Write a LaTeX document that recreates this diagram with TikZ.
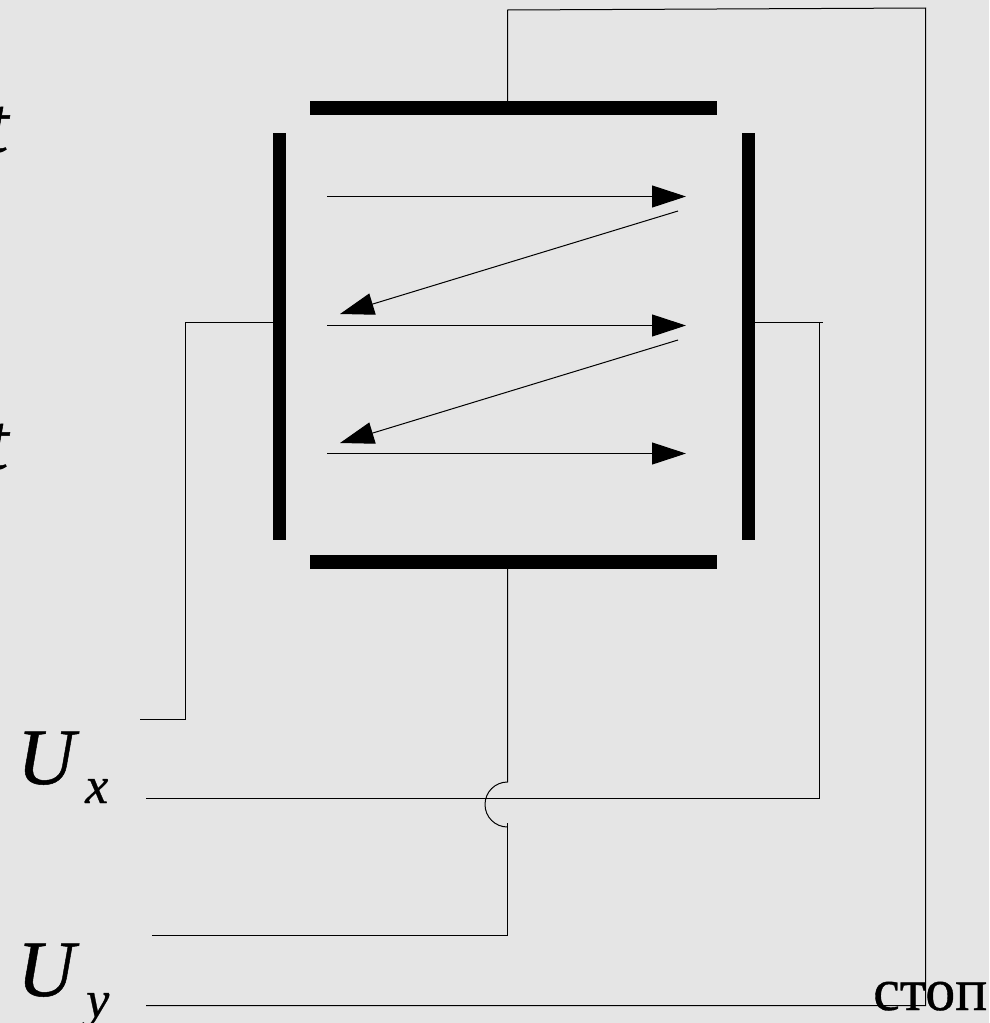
\documentclass[tikz,border=0pt]{standalone}
\usepackage{fontspec}
\usepackage{tikz}
\usetikzlibrary{arrows.meta}
\setmainfont{Liberation Serif}
\newfontfamily\heavyserif[FakeBold=0.6]{Liberation Serif}

\begin{document}
\begin{tikzpicture}
		[x=1pt,y=-1pt,%%%%%%%%%%%%%%%%%%%%%%%%%%%%%%
		plate/.style={rectangle,fill=black,inner sep=0pt},
		wire/.style={draw=black,line width=1pt},
		ray/.style={draw=black,line width=1pt,-{Triangle[length=34pt,width=22pt]}},
		bigsym/.style={anchor=base west,inner sep=0pt,font=\fontsize{80}{80}\selectfont\heavyserif\itshape},
		subsym/.style={anchor=base west,inner sep=0pt,font=\fontsize{52}{52}\selectfont\heavyserif\itshape},
		]%%%%%%%%%%%%%%%%%%%%%%%%%%%%%%
		
		\path[use as bounding box,fill=black!10] (0,0) rectangle (989,1023);
		\clip (0,0) rectangle (989,1023);
		
		\node[plate,minimum width=407pt,minimum height=14pt] (plateTop) at (513.5,108){};
		\node[plate,minimum width=407pt,minimum height=14pt] (plateBottom) at (513.5,562){};
		\node[plate,minimum width=13pt,minimum height=407pt] (plateLeft) at (279.5,336.5){};
		\node[plate,minimum width=13pt,minimum height=407pt] (plateRight) at (748.5,336.5){};
		
		\foreach \y/\n in {196.5/a,325.5/b,453.5/c}{
			\coordinate (start\n) at (327,\y);
			\coordinate (stop\n) at (686,\y);
			\draw[ray] (start\n) -- (stop\n);
		}
		\foreach \y/\n in {211/a,340/b}{
			\coordinate (back\n) at (678,\y);
			\coordinate (land\n) at (340,\y+103);
			\draw[ray] (back\n) -- (land\n);
		}
		
		\node[bigsym] (tOne) at (-14,152) {t};
		\node[bigsym] (tTwo) at (-14,469) {t};
		\node[bigsym] (uX) at (17,784) {U};
		\node[subsym] (subX) at (85,803) {x};
		\node[bigsym] (uY) at (17,996) {U};
		\node[subsym] (subY) at (86,1017) {y};
		\node[anchor=base west,inner sep=0pt,font=\fontsize{60}{60}\selectfont\heavyserif] (stopText) at (873,1010) {стоп};
		
		\coordinate (topJoin) at (507.5,101);
		\coordinate (topBend) at (507.5,10);
		\coordinate (farCorner) at (925.5,8);
		\coordinate (farBottom) at (925.5,1005.5);
		\coordinate (stopEnd) at (146,1005.5);
		\draw[wire] (topJoin) -- (topBend) -- (farCorner) -- (farBottom) -- (stopEnd);
		
		\coordinate (leftJoin) at (273,322.5);
		\coordinate (leftBend) at (185.5,322.5);
		\coordinate (leftLow) at (185.5,719.5);
		\coordinate (leftEnd) at (140,719.5);
		\draw[wire] (leftJoin) -- (leftBend) -- (leftLow) -- (leftEnd);
		
		\coordinate (rightJoin) at (755,322.5);
		\coordinate (rightTip) at (823,322.5);
		\coordinate (rightBend) at (819.5,322.5);
		\coordinate (rightLow) at (819.5,798.5);
		\coordinate (xEnd) at (146,798.5);
		\draw[wire] (rightJoin) -- (rightTip);
		\draw[wire] (rightBend) -- (rightLow) -- (xEnd);
		
		\coordinate (bottomJoin) at (507.5,569);
		\coordinate (humpTop) at (507.5,782);
		\coordinate (humpEnd) at (507.5,823);
		\coordinate (yBend) at (507.5,935);
		\coordinate (yEnd) at (152,935);
		\draw[wire] (bottomJoin) -- (humpTop) arc[start angle=90,end angle=270,radius=22.5pt];
		\draw[wire] (humpEnd) -- (yBend) -- (yEnd);
		\end{tikzpicture}
\end{document}
